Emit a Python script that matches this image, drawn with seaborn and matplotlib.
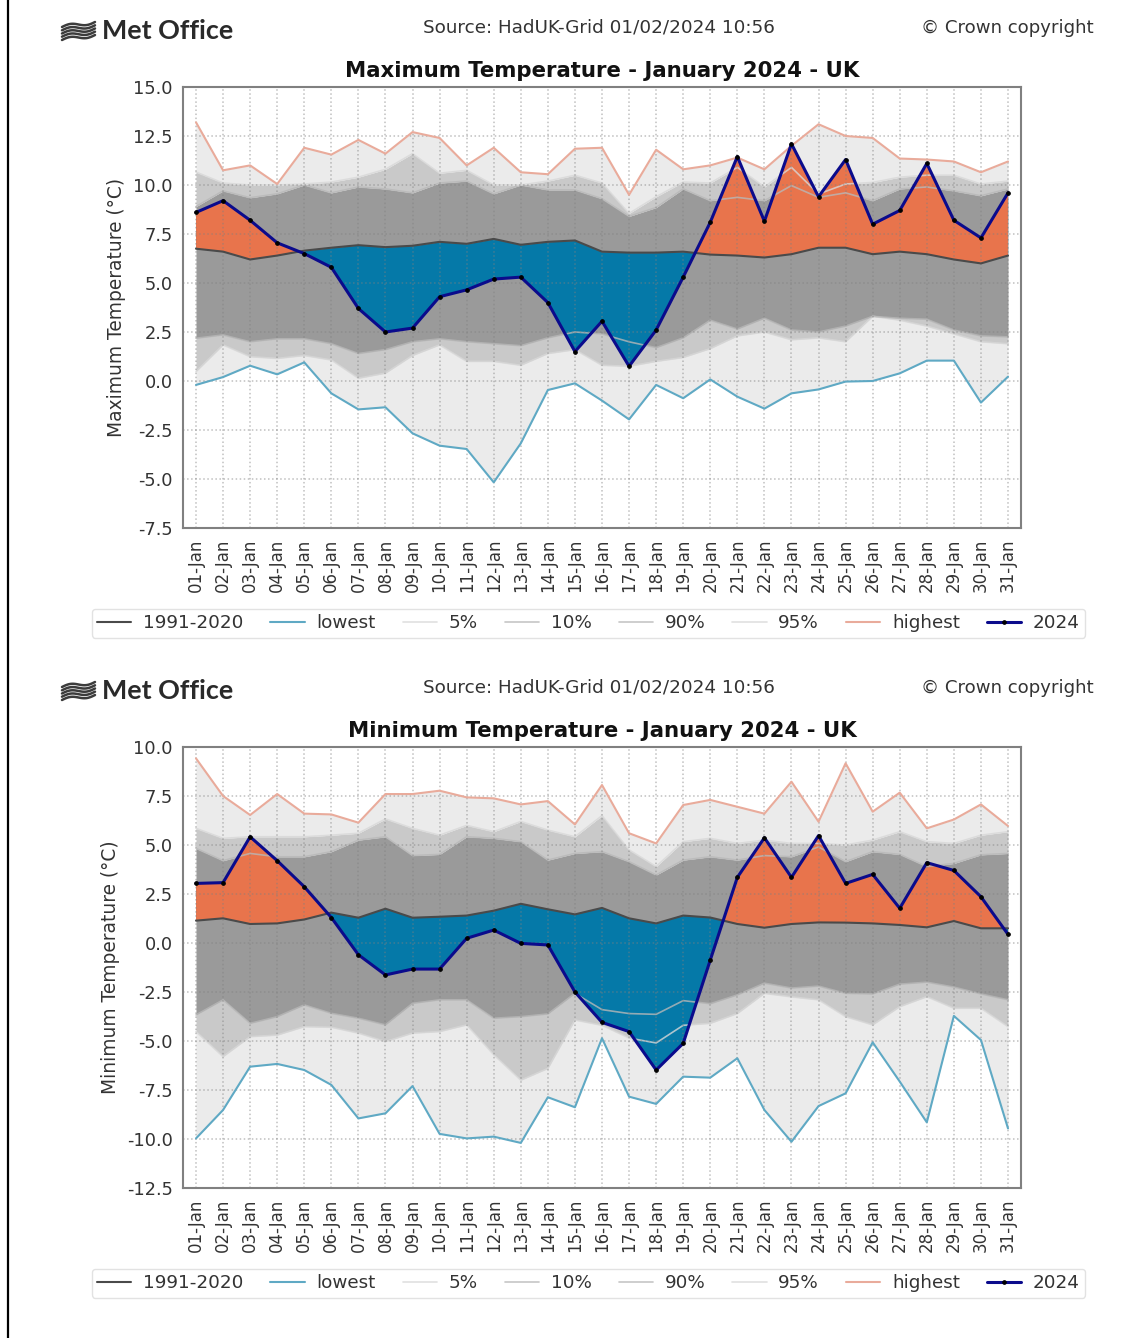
#!/usr/bin/env python3
# coding=utf-8

from matplotlib import pyplot as plt
from matplotlib.lines import Line2D
import numpy as np
import seaborn as sns

# day labels
days = ["{:02d}-Jan".format(d) for d in range(1, 32)]

# maximum temperature
max_mean = [6.75, 6.6, 6.2, 6.4, 6.65, 6.8, 6.93, 6.83, 6.9, 7.1, 7.0, 7.25, 6.95, 7.1, 7.17, 6.6,
            6.55, 6.55, 6.6, 6.45, 6.4, 6.3, 6.47, 6.8, 6.8, 6.47, 6.6, 6.47, 6.2, 6.0, 6.4]
max_lowest = [-0.2, 0.2, 0.78, 0.34, 0.95, -0.63, -1.45, -1.34, -2.67, -3.3, -3.47, -5.17, -3.18, -0.46, -0.12, -1.0,
              -1.96, -0.2, -0.88, 0.08, -0.8, -1.41, -0.63, -0.43, -0.03, 0.0, 0.39, 1.04, 1.04, -1.1, 0.22]
max_p5 = [0.48, 1.84, 1.24, 1.15, 1.3, 1.07, 0.14, 0.4, 1.3, 1.84, 1.0, 1.0, 0.8, 1.4, 1.6, 0.8,
          0.75, 1.0, 1.2, 1.65, 2.3, 2.5, 2.1, 2.2, 2.0, 3.3, 3.1, 2.8, 2.4, 2.0, 1.9]
max_p10 = [2.18, 2.35, 2.0, 2.15, 2.15, 1.9, 1.4, 1.6, 2.0, 2.15, 2.0, 1.9, 1.8, 2.2, 2.5, 2.4,
           2.0, 1.7, 2.2, 3.1, 2.65, 3.2, 2.6, 2.5, 2.8, 3.3, 3.2, 3.15, 2.6, 2.3, 2.25]
max_p90 = [8.9, 9.7, 9.35, 9.55, 10.0, 9.6, 9.9, 9.8, 9.6, 10.1, 10.2, 9.55, 10.0, 9.75, 9.75, 9.3,
           8.4, 8.85, 9.8, 9.2, 9.37, 9.2, 9.97, 9.37, 9.6, 9.2, 9.8, 9.9, 9.7, 9.45, 9.8]
max_p95 = [10.66, 10.1, 10.0, 10.0, 10.05, 10.15, 10.4, 10.8, 11.6, 10.6, 10.75, 10.0, 10.0, 10.2, 10.5, 10.1,
           8.55, 9.4, 10.15, 10.1, 10.9, 9.9, 10.9, 9.54, 10.05, 10.13, 10.4, 10.5, 10.5, 10.05, 10.2]
max_highest = [13.2, 10.75, 11.0, 10.05, 11.9, 11.55, 12.3, 11.6, 12.7, 12.4, 11.0, 11.9, 10.65, 10.55, 11.85, 11.9,
               9.5, 11.8, 10.8, 11.0, 11.4, 10.8, 12.0, 13.1, 12.5, 12.4, 11.35, 11.3, 11.2, 10.65, 11.2]
max_2024 = [8.6, 9.2, 8.2, 7.05, 6.5, 5.8, 3.7, 2.5, 2.7, 4.3, 4.65, 5.2, 5.3, 4.0, 1.5, 3.05,
            0.75, 2.6, 5.3, 8.1, 11.45, 8.15, 12.1, 9.4, 11.3, 8.0, 8.7, 11.1, 8.2, 7.3, 9.6]

# minimum temperature
min_mean = [1.14, 1.26, 0.97, 1.0, 1.2, 1.55, 1.29, 1.75, 1.29, 1.34, 1.4, 1.65, 2.0, 1.72, 1.46, 1.79,
            1.26, 1.0, 1.4, 1.3, 0.97, 0.78, 0.97, 1.05, 1.04, 1.0, 0.92, 0.8, 1.12, 0.75, 0.75]
min_lowest = [-9.97, -8.52, -6.31, -6.17, -6.48, -7.24, -8.95, -8.69, -7.3, -9.74, -9.97, -9.88, -10.2, -7.87, -8.38, -4.86,
              -7.84, -8.21, -6.82, -6.87, -5.88, -8.52, -10.14, -8.32, -7.67, -5.07, -7.07, -9.15, -3.72, -4.95, -9.46]
min_p5 = [-4.52, -5.8, -4.78, -4.7, -4.27, -4.3, -4.6, -5.03, -4.6, -4.52, -4.18, -5.7, -7.0, -6.4, -3.93, -4.2,
          -4.85, -5.1, -4.2, -4.1, -3.6, -2.57, -2.75, -2.9, -3.76, -4.18, -3.25, -2.74, -3.33, -3.33, -4.27]
min_p10 = [-3.67, -2.9, -4.1, -3.76, -3.16, -3.59, -3.84, -4.18, -3.08, -2.9, -2.9, -3.84, -3.76, -3.62, -2.57, -3.4,
           -3.6, -3.64, -2.94, -3.1, -2.65, -2.05, -2.3, -2.2, -2.57, -2.6, -2.1, -2.0, -2.25, -2.6, -2.9]
min_p90 = [4.83, 4.2, 4.57, 4.4, 4.4, 4.66, 5.25, 5.42, 4.46, 4.52, 5.42, 5.34, 5.17, 4.23, 4.57, 4.66,
           4.15, 3.47, 4.23, 4.4, 4.23, 4.46, 4.4, 4.9, 4.15, 4.66, 4.52, 3.9, 4.06, 4.5, 4.57]
min_p95 = [5.85, 5.34, 5.42, 5.42, 5.42, 5.5, 5.6, 6.33, 5.85, 5.5, 6.0, 5.68, 6.2, 5.76, 5.42, 6.5,
           4.75, 3.9, 5.17, 5.34, 5.08, 5.25, 5.08, 5.08, 5.0, 5.25, 5.68, 5.17, 5.08, 5.5, 5.68]
min_highest = [9.42, 7.5, 6.53, 7.6, 6.6, 6.56, 6.14, 7.6, 7.6, 7.77, 7.43, 7.38, 7.07, 7.24, 6.05, 8.06,
               5.6, 5.08, 7.04, 7.3, 6.95, 6.6, 8.23, 6.19, 9.17, 6.7, 7.67, 5.85, 6.3, 7.07, 5.97]
min_2024 = [3.04, 3.08, 5.42, 4.2, 2.87, 1.3, -0.6, -1.63, -1.33, -1.33, 0.24, 0.66, -0.02, -0.1, -2.5, -4.05,
            -4.52, -6.48, -5.12, -0.87, 3.35, 5.37, 3.35, 5.48, 3.04, 3.5, 1.77, 4.1, 3.7, 2.36, 0.44]

max_ticks = [-7.5, -5.0, -2.5, 0.0, 2.5, 5.0, 7.5, 10.0, 12.5, 15.0]
min_ticks = [-12.5, -10.0, -7.5, -5.0, -2.5, 0.0, 2.5, 5.0, 7.5, 10.0]

W, H = 1147, 1338
TEXT = "#333333"


def met_office_header(fig, y_px):
    """ Draws the logo, the source line and the copyright above one panel. """
    # logo stripes
    t = np.linspace(0, 1, 30)
    for off in [-6.5, -3.2, 0, 3.2, 6.5]:
        xs = 62 + 33 * t
        ys = y_px + 3 + off - 5 * (t - 0.5) - 1.8 * np.sin(2 * np.pi * t)
        fig.add_artist(Line2D(xs / W, 1 - ys / H, color="#3c3c3c", lw=1.8))
    fig.text(102 / W, 1 - (y_px + 3) / H, "Met Office", family="Lato", fontsize=19.4,
             fontweight="bold", color="#2a2a2a", va="center")
    fig.text(599 / W, 1 - y_px / H, "Source: HadUK-Grid 01/02/2024 10:56", fontsize=13.2,
             color=TEXT, ha="center", va="center")
    fig.text(1094 / W, 1 - y_px / H, "© Crown copyright", fontsize=13.1, color=TEXT,
             ha="right", va="center")


def plot_panel(fig, top_px, name, ticks, mean, lowest, p5, p10, p90, p95, highest, y2024):
    """ Plots one temperature panel with its bands, lines and legend. """
    ax = fig.add_axes([183 / W, 1 - (top_px + 441) / H, 838 / W, 441 / H])
    x = np.arange(len(days))
    mean_a, this_a = np.array(mean), np.array(y2024)

    # percentile bands
    ax.fill_between(x, lowest, p5, color="#ebebeb", lw=0, zorder=1)
    ax.fill_between(x, p5, p10, color="#c9c9c9", lw=0, zorder=1)
    ax.fill_between(x, p10, p90, color="#9a9a9a", lw=0, zorder=1)
    ax.fill_between(x, p90, p95, color="#c9c9c9", lw=0, zorder=1)
    ax.fill_between(x, p95, highest, color="#ebebeb", lw=0, zorder=1)

    # anomaly against the average
    ax.fill_between(x, mean_a, this_a, where=this_a >= mean_a, interpolate=True,
                    color="#e8744c", lw=0, zorder=1.5)
    ax.fill_between(x, mean_a, this_a, where=this_a <= mean_a, interpolate=True,
                    color="#0579a8", lw=0, zorder=1.5)

    # lines
    sns.lineplot(x=x, y=mean, ax=ax, color="#4a4a4a", lw=1.5, label="1991-2020", zorder=3)
    sns.lineplot(x=x, y=lowest, ax=ax, color="#5fa9c4", lw=1.5, label="lowest", zorder=3)
    sns.lineplot(x=x, y=p5, ax=ax, color="#d8d8d8", lw=1.2, alpha=0.8, label="5%", zorder=1.8)
    sns.lineplot(x=x, y=p10, ax=ax, color="#b8b8b8", lw=1.2, alpha=0.8, label="10%", zorder=1.8)
    sns.lineplot(x=x, y=p90, ax=ax, color="#b8b8b8", lw=1.2, alpha=0.8, label="90%", zorder=1.8)
    sns.lineplot(x=x, y=p95, ax=ax, color="#d8d8d8", lw=1.2, alpha=0.8, label="95%", zorder=1.8)
    sns.lineplot(x=x, y=highest, ax=ax, color="#e9ab9b", lw=1.5, label="highest", zorder=3)
    sns.lineplot(x=x, y=y2024, ax=ax, color="#0b0b8c", lw=2.2, marker="o", ms=2.6, mfc="black",
                 mec="black", label="2024", zorder=4)

    # axes
    ax.set_xlim(-0.48, 30.48)
    ax.set_ylim(ticks[0], ticks[-1])
    ax.set_xticks(x)
    ax.set_xticklabels(days, rotation=90, fontsize=12)
    ax.set_yticks(ticks)
    ax.set_yticklabels(["{:.1f}".format(t) for t in ticks], fontsize=12.8)
    ax.tick_params(colors=TEXT, color="#555555", length=4)
    ax.set_ylabel("{} Temperature (°C)".format(name), fontsize=13.4, color=TEXT, labelpad=5)
    ax.set_title("{} Temperature - January 2024 - UK".format(name), fontsize=15.3,
                 fontweight="bold", color="#111111", pad=7)
    ax.set_axisbelow(False)
    ax.grid(True, color="#808080", ls=":", lw=1.1, alpha=0.5, zorder=2)
    for s in ax.spines.values():
        s.set_visible(True)
        s.set_color("#808080")
        s.set_linewidth(1.5)

    # legend
    handles, labels = ax.get_legend_handles_labels()
    ax.legend(handles, labels, loc="center", ncols=8, fontsize=13.2,
              bbox_to_anchor=(588.5 / W, 1 - (top_px + 536) / H), bbox_transform=fig.transFigure,
              labelcolor=TEXT, frameon=True, framealpha=1, edgecolor="#e2e2e2",
              handlelength=1.87, columnspacing=1.48, handletextpad=0.63, borderpad=0.3)


if __name__ == "__main__":
    sns.set_style("white")
    plt.rcParams["font.family"] = ["DejaVu Sans"]
    plt.rcParams["axes.unicode_minus"] = False

    fig = plt.figure(figsize=(W / 100, H / 100), dpi=100)

    # black rule on the left edge
    fig.add_artist(Line2D([8 / W, 8 / W], [0, 1], color="black", lw=1.6))

    met_office_header(fig, 28)
    plot_panel(fig, 87, "Maximum", max_ticks, max_mean, max_lowest, max_p5, max_p10,
               max_p90, max_p95, max_highest, max_2024)
    met_office_header(fig, 688)
    plot_panel(fig, 747, "Minimum", min_ticks, min_mean, min_lowest, min_p5, min_p10,
               min_p90, min_p95, min_highest, min_2024)

    fig.savefig("out.png", dpi=100)
